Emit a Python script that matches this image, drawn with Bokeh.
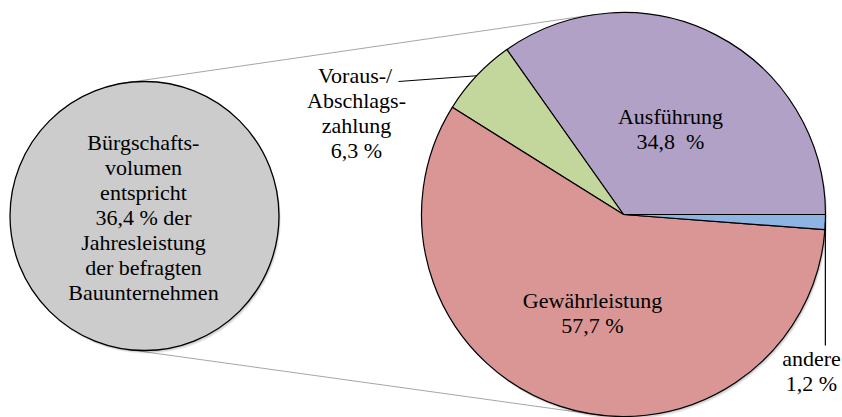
import numpy as np
from bokeh.plotting import figure
from bokeh.models import ColumnDataSource, Range1d
from bokeh.core.properties import value
from bokeh.embed import file_html
from bokeh.resources import INLINE

# ---- data ----
categories = ["Ausführung", "Voraus-/Abschlagszahlung", "Gewährleistung", "andere"]
shares = [34.8, 6.3, 57.7, 1.2]
colors = ["#B2A1C7", "#C3D69B", "#D99694", "#8EB4E3"]
label_lines = [["Ausführung", "34,8\u00a0 %"],
               ["Voraus-/", "Abschlags-", "zahlung", "6,3 %"],
               ["Gewährleistung", "57,7 %"],
               ["andere", "1,2 %"]]
total_note = ["Bürgschafts-", "volumen", "entspricht", "36,4 % der",
              "Jahresleistung", "der befragten", "Bauunternehmen"]

# ---- layout (reference pixel space, y measured downwards) ----
H = 417.0
W_FIG, H_FIG = 842, 417

def Y(ry):
    return H - ry

pie_c = (623.0, Y(214.0)); pie_r = 202.0
grey_c = (144.0, Y(215.5)); grey_r = 134.5
FONT = "Liberation Serif"
FSZ = 22
FS = f"{FSZ}px"
LH = 25.0

# Times/Liberation Serif advance widths (1/1000 em) to centre left-aligned text
WID = {" ": 250, "\u00a0": 250, "%": 833, ",": 250, "-": 333, "/": 278, "A": 722,
       "B": 667, "G": 722, "J": 389, "V": 722, "a": 444, "b": 500, "c": 444,
       "d": 500, "e": 444, "f": 333, "g": 500, "h": 500, "i": 278, "j": 278,
       "k": 500, "l": 278, "m": 778, "n": 500, "o": 500, "p": 500, "r": 333,
       "s": 389, "t": 278, "u": 500, "v": 500, "w": 722, "z": 444, "ä": 444,
       "ü": 500}

def left_of(cx, t):
    w = sum(WID.get(ch, 500) for ch in t) * FSZ / 1000.0
    return cx - w / 2.0

p = figure(width=W_FIG, height=H_FIG, output_backend="svg", toolbar_location=None,
           x_range=Range1d(0, W_FIG), y_range=Range1d(0, H_FIG),
           min_border=0, outline_line_color=None, background_fill_color="white")
p.axis.visible = False
p.grid.visible = False

# ---- connector lines (external tangents of the two circles) ----
C1 = np.array(grey_c); C2 = np.array(pie_c)
d = C2 - C1; D = np.linalg.norm(d); u = d / D; v = np.array([-u[1], u[0]])
k = (pie_r - grey_r) / D; sq = np.sqrt(1 - k * k)
xs, ys = [], []
for sign in (1, -1):
    n = k * u + sign * sq * v
    P1 = C1 - grey_r * n; P2 = C2 - pie_r * n
    xs.append([float(P1[0]), float(P2[0])]); ys.append([float(P1[1]), float(P2[1])])
p.multi_line(xs=xs, ys=ys, line_color="#A6A6A6", line_width=1)

# ---- shadows ----
for off, a in ((1.0, 0.12), (2.2, 0.10), (3.2, 0.06)):
    p.circle(x=[grey_c[0] + off * 0.6], y=[grey_c[1] - off], radius=grey_r,
             fill_color="black", fill_alpha=a, line_color=None)
    p.circle(x=[pie_c[0] + off * 0.6], y=[pie_c[1] - off], radius=pie_r,
             fill_color="black", fill_alpha=a, line_color=None)

# ---- grey circle ----
p.circle(x=[grey_c[0]], y=[grey_c[1]], radius=grey_r, fill_color="#CCCCCC",
         line_color="black", line_width=1.3)

# ---- pie ----
ang = np.cumsum([0] + [v_ / 100 * 2 * np.pi for v_ in shares])
src = ColumnDataSource(dict(start=ang[:-1].tolist(), end=ang[1:].tolist(),
                            color=colors, cat=categories))
p.wedge(x=pie_c[0], y=pie_c[1], radius=pie_r, start_angle="start", end_angle="end",
        fill_color="color", line_color="black", line_width=1.2, source=src)

# ---- leader lines ----
mid = (ang[:-1] + ang[1:]) / 2
ex1 = float(pie_c[0] + pie_r * np.cos(mid[1])); ey1 = float(pie_c[1] + pie_r * np.sin(mid[1]))
ex3 = float(pie_c[0] + pie_r * np.cos(mid[3])); ey3 = float(pie_c[1] + pie_r * np.sin(mid[3]))
p.multi_line(xs=[[398, ex1], [ex3, ex3]], ys=[[Y(81), ey1], [ey3, Y(345)]],
             line_color="black", line_width=1.2)

# ---- pie labels: left-aligned, black ----
anchors = [(670, 116), (356, 75), (592, 300), (811, 358)]
for gi, ((ax, ay), lines) in enumerate(zip(anchors, label_lines)):
    if gi == 3:
        p.text(x=[float(ax)] * len(lines), y=[Y(ay + i * LH) for i in range(len(lines))],
               text=lines, text_font=value(FONT), text_font_size=FS,
               text_align="center", text_baseline="middle", text_color="black")
    else:
        for i, t in enumerate(lines):
            p.text(x=[left_of(ax, t)], y=[Y(ay + i * LH)], text=[t],
                   text_font=value(FONT), text_font_size=FS, text_baseline="middle",
                   text_color="black")

# ---- grey circle text: left-aligned, default colour ----
for i, t in enumerate(total_note):
    p.text(x=[left_of(143, t)], y=[Y(142 + i * LH)], text=[t],
           text_font=value(FONT), text_font_size=FS, text_baseline="middle")

open("out.html", "w").write(file_html(p, INLINE))
